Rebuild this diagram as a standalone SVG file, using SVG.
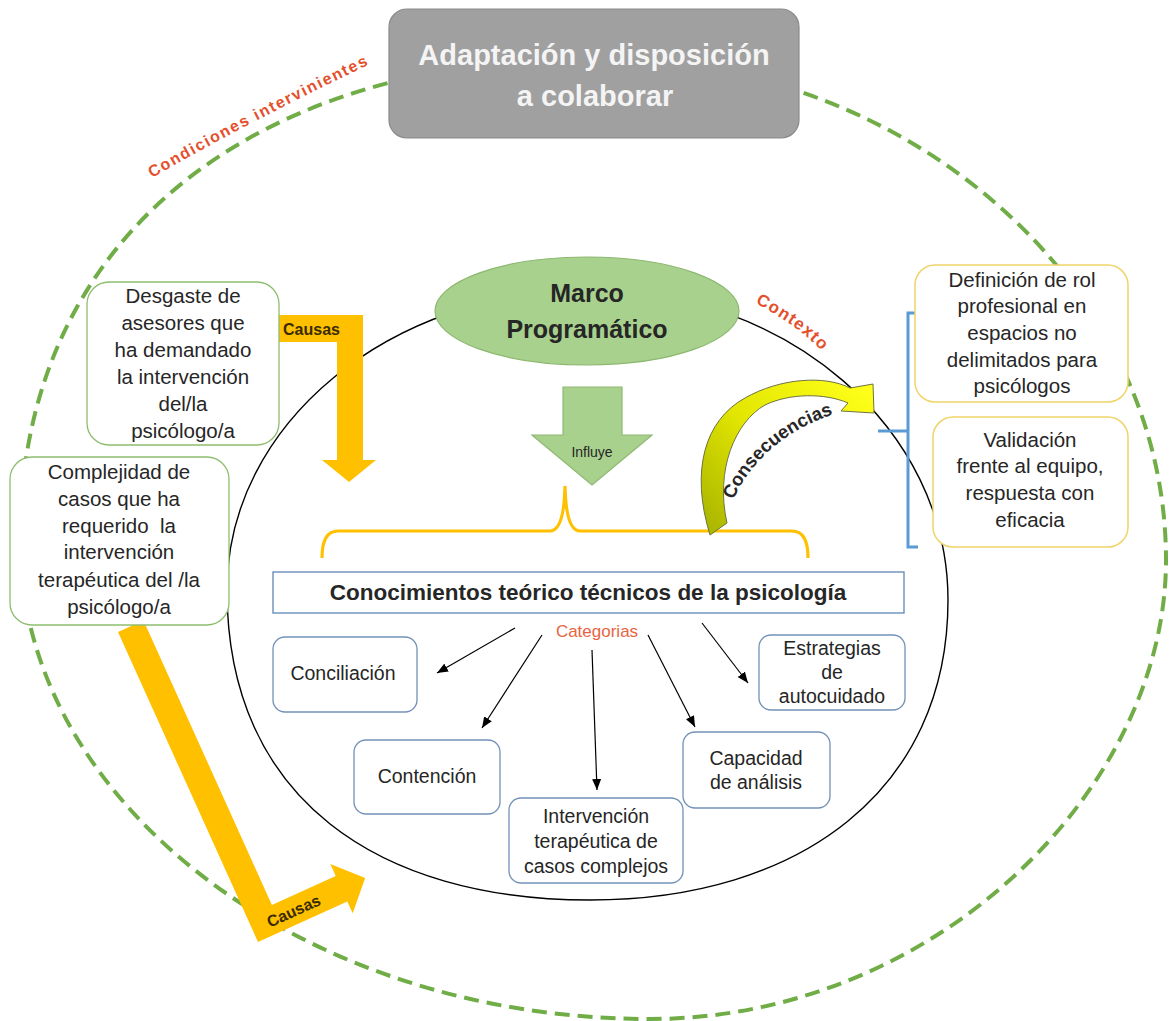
<svg xmlns="http://www.w3.org/2000/svg" width="1170" height="1021" viewBox="0 0 1170 1021">
  <defs>
    <style>
      .txt { font-family: "Liberation Sans", Arial, sans-serif; fill: #262626; }
      .box-txt { font-size: 20.5px; text-anchor: middle; }
      .cat-txt { font-size: 19.5px; text-anchor: middle; }
      .red-lbl { font-family: "Liberation Sans", Arial, sans-serif; font-weight: bold; fill: #e4502c; }
      .cat-box { fill: #ffffff; stroke: #7391b9; stroke-width: 1.3; }
      .green-box { fill: #ffffff; stroke: #8fbd6f; stroke-width: 1.3; }
      .gold-box { fill: #ffffff; stroke: #f0d46a; stroke-width: 1.5; }
      .cat-arrow { stroke: #000000; stroke-width: 1.2; fill: none; marker-end: url(#ah); }
      .causas { fill: #ffc000; }
      .causas-lbl { font-family: "Liberation Sans", Arial, sans-serif; font-weight: bold; font-size: 16px; fill: #3a2c00; }
    </style>
    <marker id="ah" viewBox="0 0 11 9" refX="11" refY="4.5" markerWidth="11" markerHeight="9" markerUnits="userSpaceOnUse" orient="auto">
      <path d="M0,0 L11,4.5 L0,9 z" fill="#000000"/>
    </marker>
    <linearGradient id="consGrad" gradientUnits="userSpaceOnUse" x1="715" y1="530" x2="870" y2="390">
      <stop offset="0" stop-color="#adb800"/>
      <stop offset="0.45" stop-color="#e2e600"/>
      <stop offset="1" stop-color="#ffff1a"/>
    </linearGradient>
    <path id="condPath" d="M 152,178 Q 241,126 366,66"/>
    <path id="contPath" d="M 755,303 Q 803,328 827,357"/>
    <path id="consPath" d="M 733,500 Q 763,436 840,412"/>
  </defs>

  <!-- outer boundary: intervening conditions -->
  <g id="outer-frame">
    <path d="M 20,540 C 20,240 250,58 595,58 C 909,58 1166,284 1166,560 C 1166,790 934,1019 650,1019 C 304,1019 20,803 20,540 Z" fill="none" stroke="#70ad47" stroke-width="4" stroke-dasharray="15 8"/>
    <text class="red-lbl" font-size="16" letter-spacing="1.6"><textPath href="#condPath">Condiciones intervinientes</textPath></text>
  </g>

  <!-- inner context boundary -->
  <g id="inner-frame">
    <path d="M 227,590 C 227,424 390,290 590,290 C 788,290 948,429 948,600 C 948,790 800,900 590,900 C 380,900 227,800 227,590 Z" fill="none" stroke="#000000" stroke-width="1.4"/>
    <text class="red-lbl" font-size="17" letter-spacing="1.2"><textPath href="#contPath">Contexto</textPath></text>
  </g>

  <!-- connectors -->
  <g id="connectors">
    <!-- Causas (upper) -->
    <polygon class="causas" points="279,315 363,315 363,460 376,460 349,482 322,460 337,460 337,342 279,342"/>
    <text class="causas-lbl" x="283" y="335">Causas</text>
    <!-- Causas (lower, bent) -->
    <polygon class="causas" points="118,632 143.5,620.4 271.9,904.9 335.7,876 330.4,864.1 365.2,878 352.7,913.3 347.3,901.5 258,942"/>
    <text class="causas-lbl" x="0" y="0" text-anchor="middle" transform="translate(296,916) rotate(-24.4)">Causas</text>
    <!-- Influye -->
    <polygon points="563,387 622,387 622,435 652,435 592,485 532,435 563,435" fill="#a9d18e" stroke="#8db96e" stroke-width="1.2"/>
    <text class="txt" x="592" y="457" font-size="14" text-anchor="middle" fill="#404040">Influye</text>
    <!-- brace over the central box -->
    <path d="M 322,558 Q 322,531 338,531 L 550,531 Q 564,531 565,486 Q 566,531 580,531 L 792,531 Q 808,531 808,558" fill="none" stroke="#ffc000" stroke-width="3.2"/>
    <!-- Consecuencias curved arrow -->
    <path d="M 710,535 C 690,470 705,420 745,398 C 780,378 825,375 850,388 L 873,384 L 874,413 L 841,411 L 848,403 C 825,393 790,393 765,405 C 735,422 715,470 727,523 Z" fill="url(#consGrad)" stroke="#6f7340" stroke-width="1"/>
    <text class="txt" font-size="18.5" font-weight="bold" fill="#111111"><textPath href="#consPath">Consecuencias</textPath></text>
    <!-- blue bracket to consequences -->
    <path d="M 918,313 L 908,313 L 908,547 L 918,547 M 908,431 L 878,431" fill="none" stroke="#5b9bd5" stroke-width="3"/>
    <!-- category arrows -->
    <line class="cat-arrow" x1="515" y1="628" x2="437" y2="673"/>
    <line class="cat-arrow" x1="542" y1="635" x2="482" y2="728"/>
    <line class="cat-arrow" x1="592" y1="650" x2="597" y2="790"/>
    <line class="cat-arrow" x1="648" y1="635" x2="695" y2="727"/>
    <line class="cat-arrow" x1="702" y1="623" x2="748" y2="683"/>
  </g>

  <!-- top node -->
  <g id="adaptacion">
    <rect x="389" y="9" width="410" height="129" rx="18" fill="#a0a0a0" stroke="#8a8a8a" stroke-width="1.2"/>
    <text x="594" y="65" font-family="'Liberation Sans', Arial, sans-serif" font-weight="bold" font-size="29" fill="#f4f4f4" text-anchor="middle">Adaptación y disposición</text>
    <text x="595" y="106" font-family="'Liberation Sans', Arial, sans-serif" font-weight="bold" font-size="29" fill="#f4f4f4" text-anchor="middle">a colaborar</text>
  </g>

  <g id="marco">
    <ellipse cx="587" cy="311" rx="152" ry="54" fill="#a9d18e" stroke="#8cb870" stroke-width="1.2"/>
    <text class="txt" x="587" y="302" font-size="25" font-weight="bold" text-anchor="middle" fill="#111111">Marco</text>
    <text class="txt" x="587" y="338" font-size="25" font-weight="bold" text-anchor="middle" fill="#111111">Programático</text>
  </g>

  <g id="desgaste">
    <rect class="green-box" x="87" y="282" width="192" height="163" rx="22"/>
    <text class="txt box-txt" x="183" y="303">Desgaste de</text>
    <text class="txt box-txt" x="183" y="330">asesores que</text>
    <text class="txt box-txt" x="183" y="357">ha demandado</text>
    <text class="txt box-txt" x="183" y="384">la intervención</text>
    <text class="txt box-txt" x="183" y="411">del/la</text>
    <text class="txt box-txt" x="183" y="438">psicólogo/a</text>
  </g>

  <g id="complejidad">
    <rect class="green-box" x="10" y="457" width="219" height="168" rx="22"/>
    <text class="txt box-txt" x="119" y="479">Complejidad de</text>
    <text class="txt box-txt" x="119" y="506">casos que ha</text>
    <text class="txt box-txt" x="119" y="533" xml:space="preserve">requerido  la</text>
    <text class="txt box-txt" x="119" y="559">intervención</text>
    <text class="txt box-txt" x="119" y="587">terapéutica del /la</text>
    <text class="txt box-txt" x="119" y="614">psicólogo/a</text>
  </g>

  <g id="definicion">
    <rect class="gold-box" x="915" y="265" width="213" height="137" rx="20"/>
    <text class="txt box-txt" x="1022" y="287">Definición de rol</text>
    <text class="txt box-txt" x="1022" y="313">profesional en</text>
    <text class="txt box-txt" x="1022" y="340">espacios no</text>
    <text class="txt box-txt" x="1022" y="367">delimitados para</text>
    <text class="txt box-txt" x="1022" y="393">psicólogos</text>
  </g>

  <g id="validacion">
    <rect class="gold-box" x="933" y="417" width="195" height="130" rx="20"/>
    <text class="txt box-txt" x="1030" y="447">Validación</text>
    <text class="txt box-txt" x="1030" y="473">frente al equipo,</text>
    <text class="txt box-txt" x="1030" y="500">respuesta con</text>
    <text class="txt box-txt" x="1030" y="527">eficacia</text>
  </g>

  <g id="conocimientos">
    <rect x="273" y="572" width="631" height="41" fill="#ffffff" stroke="#5f86b5" stroke-width="1.3"/>
    <text class="txt" x="588" y="600" font-size="22.5" font-weight="bold" text-anchor="middle" fill="#111111">Conocimientos teórico técnicos de la psicología</text>
  </g>

  <g id="categorias">
    <text x="597" y="637" font-family="'Liberation Sans', Arial, sans-serif" font-size="17" fill="#e8643f" text-anchor="middle">Categorias</text>
  </g>

  <g id="conciliacion">
    <rect class="cat-box" x="273" y="637" width="144" height="75" rx="12"/>
    <text class="txt cat-txt" x="343" y="680">Conciliación</text>
  </g>

  <g id="contencion">
    <rect class="cat-box" x="354" y="740" width="146" height="74" rx="12"/>
    <text class="txt cat-txt" x="427" y="783">Contención</text>
  </g>

  <g id="intervencion">
    <rect class="cat-box" x="509" y="798" width="174" height="85" rx="12"/>
    <text class="txt cat-txt" x="596" y="823">Intervención</text>
    <text class="txt cat-txt" x="596" y="848">terapéutica de</text>
    <text class="txt cat-txt" x="596" y="873">casos complejos</text>
  </g>

  <g id="capacidad">
    <rect class="cat-box" x="683" y="732" width="147" height="76" rx="12"/>
    <text class="txt cat-txt" x="756" y="765">Capacidad</text>
    <text class="txt cat-txt" x="756" y="789">de análisis</text>
  </g>

  <g id="estrategias">
    <rect class="cat-box" x="759" y="635" width="146" height="75" rx="12"/>
    <text class="txt cat-txt" x="832" y="655">Estrategias</text>
    <text class="txt cat-txt" x="832" y="679">de</text>
    <text class="txt cat-txt" x="832" y="703">autocuidado</text>
  </g>
</svg>
